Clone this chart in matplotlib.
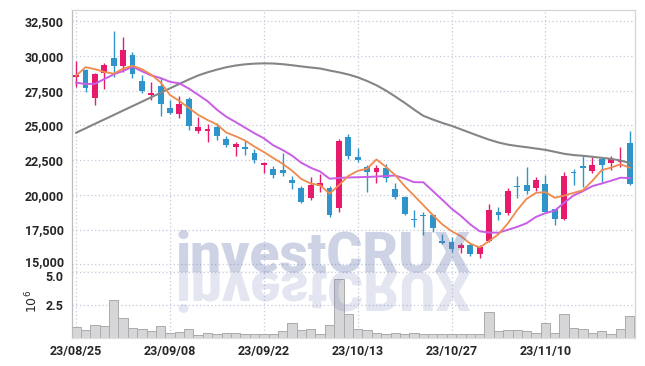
import matplotlib
matplotlib.use("Agg")
import matplotlib.pyplot as plt
import numpy as np
from matplotlib.textpath import TextPath
from matplotlib.patches import PathPatch
from matplotlib.font_manager import FontProperties
from matplotlib.transforms import Affine2D, IdentityTransform, ScaledTranslation
from matplotlib.ticker import FuncFormatter

plt.rcParams['font.family'] = ['Roboto', 'DejaVu Sans']

dates = ['23/08/25', '23/08/28', '23/08/29', '23/08/30', '23/08/31', '23/09/01', '23/09/04', '23/09/05',
         '23/09/06', '23/09/07', '23/09/08', '23/09/11', '23/09/12', '23/09/13', '23/09/14', '23/09/15',
         '23/09/18', '23/09/19', '23/09/20', '23/09/21', '23/09/22', '23/09/25', '23/09/26', '23/09/27',
         '23/10/04', '23/10/05', '23/10/06', '23/10/10', '23/10/11', '23/10/12', '23/10/13', '23/10/16',
         '23/10/17', '23/10/18', '23/10/19', '23/10/20', '23/10/23', '23/10/24', '23/10/25', '23/10/26',
         '23/10/27', '23/10/30', '23/10/31', '23/11/01', '23/11/02', '23/11/03', '23/11/06', '23/11/07',
         '23/11/08', '23/11/09', '23/11/10', '23/11/13', '23/11/14', '23/11/15', '23/11/16', '23/11/17',
         '23/11/20', '23/11/21', '23/11/22', '23/11/23']

opens = [28500, 28990, 27000, 28800, 29830, 29300, 30070, 28200, 27200, 27840,
         26280, 25820, 26900, 24620, 24620, 24900, 24020, 23470, 23470, 23030,
         22120, 21860, 21790, 21060, 20470, 19790, 20660, 20510, 19030, 24140,
         22720, 21980, 21620, 21950, 20420, 19860, 18260, 18500, 18540, 16600,
         16580, 16190, 16380, 15740, 16690, 18760, 18670, 20600, 20700, 20510,
         20780, 18980, 18230, 21620, 22000, 21740, 22560, 22270, 22360, 23750]
highs = [29640, 29050, 28750, 29480, 31800, 31400, 30270, 28630, 28100, 28400,
         26850, 27100, 27050, 25580, 25100, 25150, 24240, 23830, 23880, 23280,
         22330, 22080, 22990, 21350, 20640, 21300, 21480, 20660, 24020, 24360,
         23390, 22150, 22150, 22200, 20830, 19900, 18900, 18790, 18600, 17170,
         16930, 16500, 16500, 16380, 19340, 19100, 20470, 21350, 22020, 21300,
         21430, 19000, 21670, 21840, 22800, 22750, 22700, 22800, 23470, 24620]
lows = [27790, 27400, 26500, 27650, 28500, 28870, 28400, 27300, 26830, 25700,
        25800, 25500, 24650, 24470, 23830, 23950, 23420, 22800, 22870, 22270,
        21590, 21190, 21350, 20400, 19430, 19630, 20220, 18420, 18740, 22560,
        22380, 20180, 20830, 20900, 19700, 18540, 17700, 17100, 17340, 16450,
        15900, 15790, 15590, 15470, 16620, 18180, 18540, 19750, 20060, 20290,
        18740, 17820, 18200, 20700, 20580, 21550, 20940, 21790, 22020, 20700]
closes = [28600, 27670, 28700, 29350, 29300, 30430, 28680, 27500, 27350, 26540,
          25880, 26540, 24980, 24860, 24700, 24260, 23610, 23660, 23320, 22510,
          22310, 21450, 21590, 20830, 19500, 20700, 20850, 18540, 23880, 22820,
          22530, 21620, 21910, 21190, 19860, 18590, 18180, 18450, 17630, 16560,
          16090, 16380, 15740, 16260, 18900, 18520, 20270, 20560, 20300, 21060,
          18790, 18230, 21350, 21570, 21960, 22150, 22150, 22560, 22500, 20760]
volumes = [810000, 570000, 970000, 890000, 2840000, 1470000, 740000, 640000, 500000, 890000,
           360000, 420000, 640000, 180000, 360000, 300000, 380000, 380000, 230000, 280000,
           230000, 300000, 460000, 1140000, 610000, 680000, 300000, 940000, 4480000, 1770000,
           680000, 610000, 380000, 300000, 380000, 300000, 380000, 300000, 230000, 300000,
           300000, 230000, 300000, 300000, 1970000, 530000, 610000, 610000, 460000, 380000,
           1140000, 380000, 1820000, 760000, 680000, 380000, 460000, 300000, 680000, 1650000]
ma5 = [28580, 29200, 29050, 28850, 28724, 29090, 29292, 29052, 28652, 28100,
       27190, 26762, 26258, 25760, 25392, 25068, 24482, 24218, 23910, 23472,
       23082, 22650, 22236, 21738, 21136, 20814, 20694, 20084, 20694, 21358,
       21724, 21878, 22552, 22014, 21422, 20634, 19946, 19254, 18542, 17882,
       17382, 17022, 16480, 16206, 16674, 17160, 17938, 18902, 19710, 20142,
       20196, 19788, 19946, 20140, 20330, 21000, 21780, 21960, 22200, 21950]
ma10 = [28080, 27980, 28000, 28340, 28680, 28920, 29230, 28900, 28600, 28412,
        28140, 28027, 27655, 27206, 26746, 26129, 25622, 25238, 24835, 24432,
        24075, 23566, 23227, 22824, 22304, 21948, 21672, 21160, 21216, 21247,
        21269, 21286, 21318, 21354, 21390, 21179, 20912, 20903, 20278, 19652,
        19008, 18484, 17867, 17374, 17278, 17271, 17480, 17691, 17958, 18408,
        18678, 18863, 19424, 19955, 20262, 20625, 20813, 21013, 21233, 21203]
ma60 = [24475, 24792, 25116, 25432, 25749, 26073, 26390, 26707, 27031, 27348,
        27672, 27990, 28307, 28600, 28825, 29020, 29190, 29315, 29400, 29450,
        29470, 29460, 29410, 29335, 29250, 29170, 29100, 28955, 28825, 28670,
        28465, 28200, 27890, 27515, 27080, 26630, 26145, 25690, 25425, 25185,
        24970, 24720, 24465, 24215, 23975, 23770, 23615, 23515, 23430, 23335,
        23240, 23100, 22955, 22865, 22810, 22740, 22665, 22595, 22470, 22290]

tick_idx = [0, 10, 20, 30, 40, 50]
price_ticks = [15000, 17500, 20000, 22500, 25000, 27500, 30000, 32500]
vol_ticks = [2500000, 5000000]

PINK = '#E61B6C'
BLUE = '#2F94C9'
GRID = '#c6c9dd'
TXT = '#262626'

W, H = 645, 366
fig = plt.figure(figsize=(W / 100, H / 100), dpi=100)
fig.patch.set_facecolor('white')
left, right = 71.5, 634.5
ax = fig.add_axes([left / W, (H - 272) / H, (right - left) / W, (272 - 9.5) / H])
axv = fig.add_axes([left / W, (H - 337.5) / H, (right - left) / W, (337.5 - 272) / H], sharex=ax)

x = np.arange(len(closes))
o = np.array(opens, float)
c = np.array(closes, float)
up = c >= o
cols = np.where(up, PINK, BLUE)

ax.vlines(x, lows, highs, colors=cols, linewidth=1.0, zorder=2)
body_bottom = np.minimum(o, c)
body_h = np.maximum(np.abs(c - o), 90)
ax.bar(x, body_h, bottom=body_bottom, width=0.62, color=cols, linewidth=0, zorder=3)

ax.plot(x, ma60, color='#858585', linewidth=1.5, zorder=4)
ax.plot(x, ma10, color='#C95DE6', linewidth=1.4, zorder=4)
ax.plot(x, ma5, color='#EF8A4C', linewidth=1.3, zorder=5)

axv.bar(x, volumes, width=1.0, color='#d6d6d8', edgecolor='#ababab', linewidth=0.7, zorder=2)

ax.set_xlim(-0.5, 59.5)
ax.set_ylim(14440, 33350)
axv.set_ylim(0, 5000000)

ax.set_yticks(price_ticks)
ax.yaxis.set_major_formatter(FuncFormatter(lambda v, p: f'{int(v):,}'))
axv.set_yticks(vol_ticks)
axv.yaxis.set_major_formatter(FuncFormatter(lambda v, p: f'{v / 1e6:.1f}'))
axv.set_xticks(tick_idx)
axv.set_xticklabels([dates[i] for i in tick_idx])

for a in (ax, axv):
    a.grid(True, color=GRID, linestyle=(0, (1, 2)), linewidth=0.9)
    a.set_axisbelow(True)
    a.tick_params(length=0, labelsize=9, labelcolor=TXT, pad=5.5)
    for lab in a.get_yticklabels() + a.get_xticklabels():
        lab.set_fontweight('bold')
    a.spines['top'].set_color('#d4d4d4')
    a.spines['right'].set_color('#d4d4d4')
    a.spines['left'].set_color('#bdbdbd')
    a.spines['bottom'].set_color('#c4c4c4')
    for s in a.spines.values():
        s.set_linewidth(0.9)
ax.tick_params(labelbottom=False)
axv.spines['top'].set_visible(False)
axv.spines['bottom'].set_color('#e0e0e0')

# nudge the two labels that meet at the panel boundary apart slightly
fig.canvas.draw()
ax.get_yticklabels()[0].set_transform(ax.get_yticklabels()[0].get_transform()
                                      + ScaledTranslation(0, 2 / 72, fig.dpi_scale_trans))
axv.get_yticklabels()[-1].set_transform(axv.get_yticklabels()[-1].get_transform()
                                        + ScaledTranslation(0, -3 / 72, fig.dpi_scale_trans))

fig.text(32.5 / W, (H - 301) / H, r'$10^{6}$', rotation=90, ha='center', va='center',
         fontsize=9, color=TXT)

# watermark
x0 = 176
base = H - 272
wm_color = (100 / 255, 118 / 255, 175 / 255)
fig.text(x0 / W, base / H, 'investCRUX', fontsize=39.5, family=['Roboto'], weight='black',
         color=wm_color, alpha=0.32, ha='left', va='baseline', zorder=10)
tp = TextPath((0, 0), 'investCRUX', size=39.5 * 100 / 72,
              prop=FontProperties(family='Roboto', weight='black'))
path = Affine2D().scale(1, -1).translate(x0, base).transform_path(tp)
fig.add_artist(PathPatch(path, transform=IdentityTransform(), facecolor=wm_color,
                         edgecolor='none', alpha=0.18, zorder=10))

fig.savefig('out.png', dpi=100)
